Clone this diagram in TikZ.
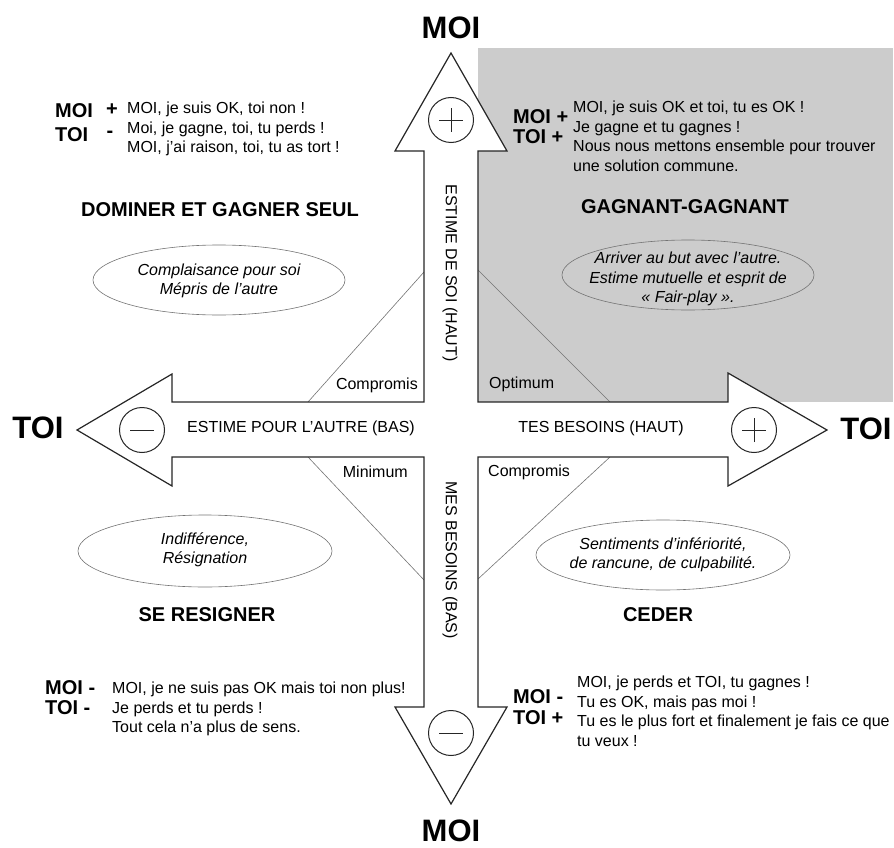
\documentclass[tikz,border=0pt]{standalone}
\usepackage{fontspec}
\setmainfont{Liberation Sans}
\usetikzlibrary{shapes.geometric}

\begin{document}
\begin{tikzpicture}[x=1pt,y=-1pt,
  txt/.style={font=\fontsize{16}{19.5}\selectfont,inner sep=0pt},
  body/.style={txt,align=left,anchor=north west},
  lbl/.style={font=\fontsize{20}{20}\selectfont\bfseries,inner sep=0pt},
  title/.style={font=\fontsize{20}{20}\selectfont\bfseries,inner sep=0pt},
  big/.style={font=\fontsize{31}{31}\selectfont\bfseries,inner sep=0pt},
  note/.style={txt,align=center,font=\fontsize{16}{19.5}\selectfont\itshape},
  oval/.style={draw=black!55,line width=0.6pt},
  guide/.style={black!55,line width=0.6pt},
  sign/.style={circle,draw=black!85,line width=1pt,minimum size=45pt,inner sep=0pt}]
  \useasboundingbox (0,0) rectangle (894,848);

  % quadrant gagnant-gagnant
  \fill[black!20] (478,48) rectangle (893,402);

  % diagonales
  \draw[guide] (308,402) -- (424,272);
  \draw[guide] (478,270) -- (610,402);
  \draw[guide] (308,457) -- (424,580);
  \draw[guide] (610,457) -- (478,579);

  % la croix
  \draw[line width=1.2pt,draw=black!85,fill=white,line join=miter]
    (424,402) -- (424,151) -- (395,151) -- (451,53) -- (507,151) -- (478,151)
    -- (478,402) -- (728,402) -- (728,373) -- (827,430) -- (728,486) -- (728,457)
    -- (478,457) -- (478,707) -- (507,707) -- (451,804) -- (395,707) -- (424,707)
    -- (424,457) -- (172,457) -- (172,486) -- (77,430) -- (172,374) -- (172,402)
    -- cycle;

  % signes
  \node[sign] (up) at (451,120) {};
  \node[sign] (down) at (451,733) {};
  \node[sign] (left) at (142,430) {};
  \node[sign] (right) at (754,430) {};
  \foreach \c in {up,down,left,right}
    \draw[line width=0.9pt,black!85] ([xshift=-12pt]\c.center) -- ([xshift=12pt]\c.center);
  \foreach \c in {up,right}
    \draw[line width=0.9pt,black!85] ([yshift=-12pt]\c.center) -- ([yshift=12pt]\c.center);

  % axes
  \node[big] (moiH) at (451,28) {MOI};
  \node[big] (moiB) at (451,831) {MOI};
  \node[big] (toiG) at (38,428) {TOI};
  \node[big] (toiD) at (866,429) {TOI};
  \node[txt] (autre) at (301,428) {ESTIME POUR L'AUTRE (BAS)};
  \node[txt] (tes) at (601,428) {TES BESOINS (HAUT)};
  \node[txt,rotate=-90] (soi) at (450,273) {ESTIME DE SOI (HAUT)};
  \node[txt,rotate=-90] (mes) at (450,560) {MES BESOINS (BAS)};

  \node[txt,anchor=east] (compHG) at (418,385) {Compromis};
  \node[txt,anchor=east] (mini) at (408,472) {Minimum};
  \node[txt,anchor=west] (opti) at (489,384) {Optimum};
  \node[txt,anchor=west] (compBD) at (488,472) {Compromis};

  % haut gauche
  \node[lbl,anchor=west] (moiHG) at (55,111) {MOI};
  \node[lbl,anchor=west] (toiHG) at (55,135) {TOI};
  \node[lbl] (plusHG) at (112,110) {+};
  \node[lbl] (moinsHG) at (110,134) {-};
  \node[body] (txtHG) at (127,102) {MOI, je suis OK, toi non !\\Moi, je gagne, toi, tu perds !\\MOI, j'ai raison, toi, tu as tort !};
  \node[title] (domi) at (220,210) {DOMINER ET GAGNER SEUL};
  \draw[oval] (219,280) ellipse (126 and 35);
  \node[note] (noteHG) at (219,281) {Complaisance pour soi\\Mépris de l'autre};

  % haut droite
  \node[lbl,anchor=west] (moiHD) at (513,117) {MOI +};
  \node[lbl,anchor=west] (toiHD) at (513,137) {TOI +};
  \node[body] (txtHD) at (573,101) {MOI, je suis OK et toi, tu es OK !\\Je gagne et tu gagnes !\\Nous nous mettons ensemble pour trouver\\une solution commune.};
  \node[title] (gagn) at (685,207) {GAGNANT-GAGNANT};
  \draw[oval] (688,275) ellipse (126 and 35);
  \node[note] (noteHD) at (688,279) {Arriver au but avec l'autre.\\Estime mutuelle et esprit de\\« Fair-play ».};

  % bas gauche
  \draw[oval] (205,551) ellipse (127 and 36);
  \node[note] (noteBG) at (205,550) {Indifférence,\\Résignation};
  \node[title] (resi) at (207,615) {SE RESIGNER};
  \node[lbl,anchor=west] (moiBG) at (45,688) {MOI -};
  \node[lbl,anchor=west] (toiBG) at (45,708) {TOI -};
  \node[body] (txtBG) at (112,682) {MOI, je ne suis pas OK mais toi non plus!\\Je perds et tu perds !\\Tout cela n'a plus de sens.};

  % bas droite
  \draw[oval] (663,555) ellipse (127 and 35);
  \node[note] (noteBD) at (663,555) {Sentiments d'infériorité,\\de rancune, de culpabilité.};
  \node[title] (ceder) at (658,615) {CEDER};
  \node[lbl,anchor=west] (moiBD) at (513,697) {MOI -};
  \node[lbl,anchor=west] (toiBD) at (513,718) {TOI +};
  \node[body] (txtBD) at (577,676) {MOI, je perds et TOI, tu gagnes !\\Tu es OK, mais pas moi !\\Tu es le plus fort et finalement je fais ce que\\tu veux !};
\end{tikzpicture}
\end{document}
